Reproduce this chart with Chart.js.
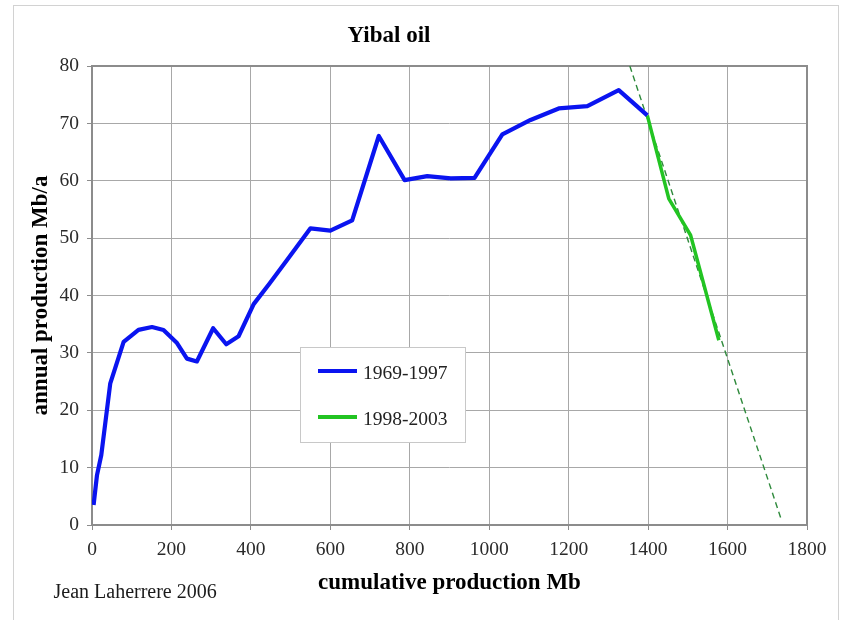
<!DOCTYPE html>
<html>
<head>
<meta charset="utf-8">
<title>Yibal oil</title>
<script src="https://cdn.jsdelivr.net/npm/chart.js@4/dist/chart.umd.min.js"></script>
<style>
  html, body { margin: 0; padding: 0; background: #ffffff; }
  #wrap { width: 841px; height: 620px; }
</style>
</head>
<body>
<div id="wrap"><canvas id="c" width="841" height="620"></canvas></div>
<script>
// Cumulative production (Mb) and annual production (Mb/a), 1969-1997
const cum6997 = [4, 12.6, 23.4, 46, 79.6, 117, 151, 180, 214, 239, 264, 305, 338, 369, 407,
                 447, 491, 550, 600, 655, 722, 787, 844, 903, 963, 1033, 1104, 1175, 1247, 1326, 1398];
const prod6997 = [3.5, 8.7, 12.2, 24.7, 31.9, 34, 34.5, 34, 31.7, 29, 28.5, 34.3, 31.5, 32.9, 38.5,
                  42.1, 46.2, 51.7, 51.3, 53.1, 67.8, 60.1, 60.8, 60.4, 60.5, 68.1, 70.6, 72.6, 73.0, 75.8, 71.4];

// 1998-2003
const cum9803 = [1398, 1452, 1507, 1578];
const prod9803 = [71.4, 56.9, 50.5, 32.2];

// Linear decline trend extrapolated to the ultimate
const trendCum = [1354, 1735];
const trendProd = [80, 1];

const seriesLabels = ['1969-1997', '1998-2003'];
const seriesColors = ['#0a14f0', '#22c422'];
const trendColor = '#2f8a3c';

const xMin = 0, xMax = 1800, xStep = 200;
const yMin = 0, yMax = 80, yStep = 10;

const chartTitle = 'Yibal oil';
const xTitle = 'cumulative production Mb';
const yTitle = 'annual production Mb/a';
const credit = 'Jean Laherrere 2006';

const SERIF = "'Liberation Serif', 'Times New Roman', serif";

function pairs(xs, ys) {
  return xs.map((x, i) => ({ x: x, y: ys[i] }));
}

// Frame, plot border, titles and the inset legend
const decor = {
  id: 'decor',
  beforeDraw(chart) {
    const ctx = chart.ctx;
    ctx.save();
    ctx.fillStyle = '#ffffff';
    ctx.fillRect(0, 0, chart.width, chart.height);
    ctx.strokeStyle = '#d2d2d2';
    ctx.lineWidth = 1;
    ctx.strokeRect(13.5, 5.5, 825, 640);
    ctx.restore();
  },
  beforeDatasetsDraw(chart) {
    const ctx = chart.ctx;
    const a = chart.chartArea;
    ctx.save();
    ctx.strokeStyle = '#8c8c8c';
    ctx.lineWidth = 2;
    ctx.strokeRect(a.left, a.top, a.right - a.left, a.bottom - a.top);
    ctx.restore();
  },
  afterDraw(chart) {
    const ctx = chart.ctx;
    const a = chart.chartArea;
    ctx.save();

    // chart title
    ctx.fillStyle = '#000000';
    ctx.font = 'bold 23px ' + SERIF;
    ctx.textAlign = 'center';
    ctx.textBaseline = 'alphabetic';
    ctx.fillText(chartTitle, 389, 42);

    // x axis title
    ctx.fillText(xTitle, (a.left + a.right) / 2, 589);

    // y axis title
    ctx.save();
    ctx.translate(47, (a.top + a.bottom) / 2);
    ctx.rotate(-Math.PI / 2);
    ctx.fillText(yTitle, 0, 0);
    ctx.restore();

    // credit
    ctx.font = '20px ' + SERIF;
    ctx.textAlign = 'left';
    ctx.fillStyle = '#1a1a1a';
    ctx.fillText(credit, 53.5, 598);

    // legend
    const lx = 300.5, ly = 347.5, lw = 165, lh = 95;
    ctx.fillStyle = '#ffffff';
    ctx.fillRect(lx, ly, lw, lh);
    ctx.strokeStyle = '#c8c8c8';
    ctx.lineWidth = 1;
    ctx.strokeRect(lx, ly, lw, lh);
    const rows = [371, 417];
    ctx.font = '19.5px ' + SERIF;
    seriesLabels.forEach((lab, i) => {
      ctx.strokeStyle = seriesColors[i];
      ctx.lineWidth = 4;
      ctx.beginPath();
      ctx.moveTo(318, rows[i]);
      ctx.lineTo(357, rows[i]);
      ctx.stroke();
      ctx.fillStyle = '#222222';
      ctx.fillText(lab, 363, rows[i] + 8);
    });
    ctx.restore();
  }
};

const gridCommon = {
  color: '#a8a8a8',
  lineWidth: 1,
  borderDash: [1, 1],
  drawTicks: true,
  tickLength: 5,
  tickColor: '#8c8c8c',
  tickBorderDash: [],
  tickWidth: 1
};

new Chart(document.getElementById('c'), {
  type: 'line',
  data: {
    datasets: [
      {
        label: seriesLabels[0],
        data: pairs(cum6997, prod6997),
        borderColor: seriesColors[0],
        borderWidth: 4.2,
        pointRadius: 0,
        tension: 0,
        fill: false,
        borderJoinStyle: 'round'
      },
      {
        label: seriesLabels[1],
        data: pairs(cum9803, prod9803),
        borderColor: seriesColors[1],
        borderWidth: 3.5,
        pointRadius: 0,
        tension: 0,
        fill: false,
        borderJoinStyle: 'round'
      },
      {
        label: 'trend',
        data: pairs(trendCum, trendProd),
        borderColor: trendColor,
        borderWidth: 1.4,
        borderDash: [6, 4],
        pointRadius: 0,
        tension: 0,
        fill: false
      }
    ]
  },
  options: {
    responsive: false,
    animation: false,
    devicePixelRatio: 1,
    layout: { padding: { left: 0, top: 66, right: 34, bottom: 0 } },
    plugins: {
      legend: { display: false },
      title: { display: false },
      tooltip: { enabled: false }
    },
    scales: {
      x: {
        type: 'linear',
        min: xMin,
        max: xMax,
        grid: gridCommon,
        border: { display: false },
        ticks: {
          stepSize: xStep,
          padding: 8,
          maxRotation: 0,
          color: '#2a2a2a',
          font: { family: SERIF, size: 19.5 },
          callback: (v) => String(v)
        },
        afterFit(scale) { scale.height = 95; }
      },
      y: {
        type: 'linear',
        min: yMin,
        max: yMax,
        grid: gridCommon,
        border: { display: false },
        ticks: {
          stepSize: yStep,
          padding: 8,
          color: '#2a2a2a',
          font: { family: SERIF, size: 19.5 },
          callback: (v) => String(v)
        },
        afterFit(scale) { scale.width = 92; }
      }
    }
  },
  plugins: [decor]
});
</script>
</body>
</html>
